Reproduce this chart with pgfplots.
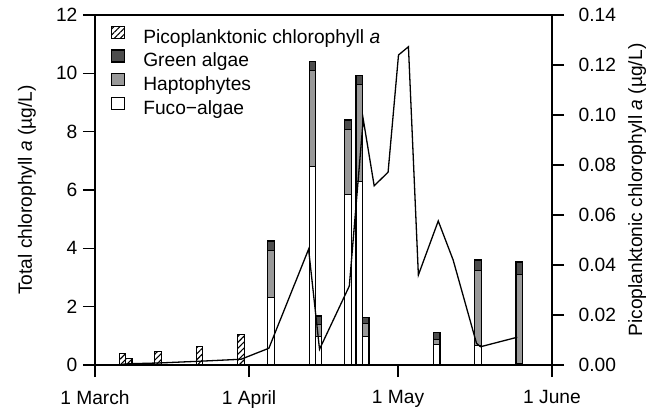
\documentclass[border=0pt]{standalone}
\usepackage{fontspec}
\setmainfont{Liberation Sans}
\usepackage{pgfplots}
\pgfplotsset{compat=1.18}
\usetikzlibrary{patterns.meta}
\definecolor{greenalg}{HTML}{4D4D4D}
\definecolor{hapto}{HTML}{999999}

\pgfplotstableread{
d fuco hapto green
35.4 2.31 1.61 0.33
43.8 6.82 3.29 0.29
45.0 0.97 0.42 0.29
50.9 5.86 2.20 0.34
53.2 6.28 3.34 0.30
54.5 0.99 0.42 0.21
68.8 0.69 0.17 0.26
77.1 0.66 2.57 0.37
85.4 0.05 3.04 0.44
}\stacktab

\pgfplotstableread{
d pico
5.5 0.38
6.8 0.23
12.7 0.46
21.0 0.62
29.4 1.05
}\hatchtab

\pgfplotstableread{
d val
5.5 0.0003
6.8 0.0005
12.7 0.0008
21.0 0.0015
29.4 0.0023
35.0 0.0067
43.0 0.0463
45.2 0.0063
51.2 0.0316
54.0 0.0983
56.2 0.0717
59.0 0.0771
61.1 0.1240
63.1 0.1273
65.1 0.0360
69.1 0.0576
72.1 0.0420
76.8 0.0087
77.6 0.0073
85.0 0.0111
}\linetab

\begin{document}
\fontsize{19.2bp}{22bp}\selectfont
\begin{tikzpicture}[font=\fontsize{19.2bp}{22bp}\selectfont]
\pgfplotsset{
  common/.style={
    scale only axis, width=457bp, height=350bp,
    xmin=0, xmax=92,
    tick align=outside, major tick length=12bp,
    tick style={black, line width=1.1bp},
    axis line style={line width=1.2bp},
    /pgf/number format/assume math mode=true,
  },
  legimg/.style={legend image code/.code={\draw[##1, line width=1.1bp] (0bp,0bp) rectangle (13bp,12bp);}},
}
% main axis: stacked bars
\begin{axis}[common, name=main,
  ymin=0, ymax=12, ytick={0,2,4,6,8,10,12},
  xtick={0,31,61,92}, xticklabels={1 March,1 April,1 May,1 June},
  xticklabel style={yshift=-7bp},
  yticklabel style={xshift=1bp},
  xtick pos=bottom, ytick pos=left,
  ybar stacked, bar width=1.3,
  ylabel={Total chlorophyll \textit{a} (µg/L)},
  ylabel style={at={(axis description cs:-0.138,0.5)}, anchor=base},
  legend style={draw=none, fill=none, at={(axis description cs:0.035,0.97)}, anchor=north west,
    inner sep=0pt, row sep=1.2bp, column sep=0bp,
    nodes={inner sep=1bp, text height=14bp, text depth=4bp},
    /tikz/every odd column/.append style={column sep=17bp},
    /tikz/every even column/.append style={column sep=0bp},
  },
  legend cell align=left,
]
\addlegendimage{legimg, pattern={Lines[angle=45,distance=4.2bp,line width=1.1bp]}}
\addlegendentry{Picoplanktonic chlorophyll \textit{a}}
\addlegendimage{legimg, fill=greenalg}
\addlegendentry{Green algae}
\addlegendimage{legimg, fill=hapto}
\addlegendentry{Haptophytes}
\addlegendimage{legimg, fill=white}
\addlegendentry{Fuco\textminus algae}
\addplot[forget plot, draw=black, line width=1.1bp, fill=white] table[x=d,y=fuco] {\stacktab};
\addplot[forget plot, draw=black, line width=1.1bp, fill=hapto] table[x=d,y=hapto] {\stacktab};
\addplot[forget plot, draw=black, line width=1.1bp, fill=greenalg] table[x=d,y=green] {\stacktab};
\end{axis}
% hatched bars
\begin{axis}[common, hide axis, ymin=0, ymax=12, ybar, bar width=1.3, bar shift=0pt]
\addplot[draw=black, line width=1.1bp, fill=white, postaction={pattern={Lines[angle=45,distance=4.2bp,line width=1.1bp]}}] table[x=d,y=pico] {\hatchtab};
\end{axis}
% right axis: line
\begin{axis}[common, axis x line=none, axis y line*=right, ytick pos=right,
  ymin=0, ymax=0.14, ytick={0,0.02,0.04,0.06,0.08,0.10,0.12,0.14},
  yticklabel style={xshift=8bp, /pgf/number format/.cd, fixed, fixed zerofill, precision=2},
  ylabel={Picoplanktonic chlorophyll \textit{a} (µg/L)},
  ylabel style={at={(axis description cs:1.197,0.5)}, anchor=base, rotate=0},
]
\addplot[black, line width=1.3bp, no marks] table[x=d,y=val] {\linetab};
\end{axis}
\pgfresetboundingbox
\path ([shift={(-95bp,-43bp)}]main.south west) rectangle ([shift={(565bp,365bp)}]main.south west);
\end{tikzpicture}
\end{document}
